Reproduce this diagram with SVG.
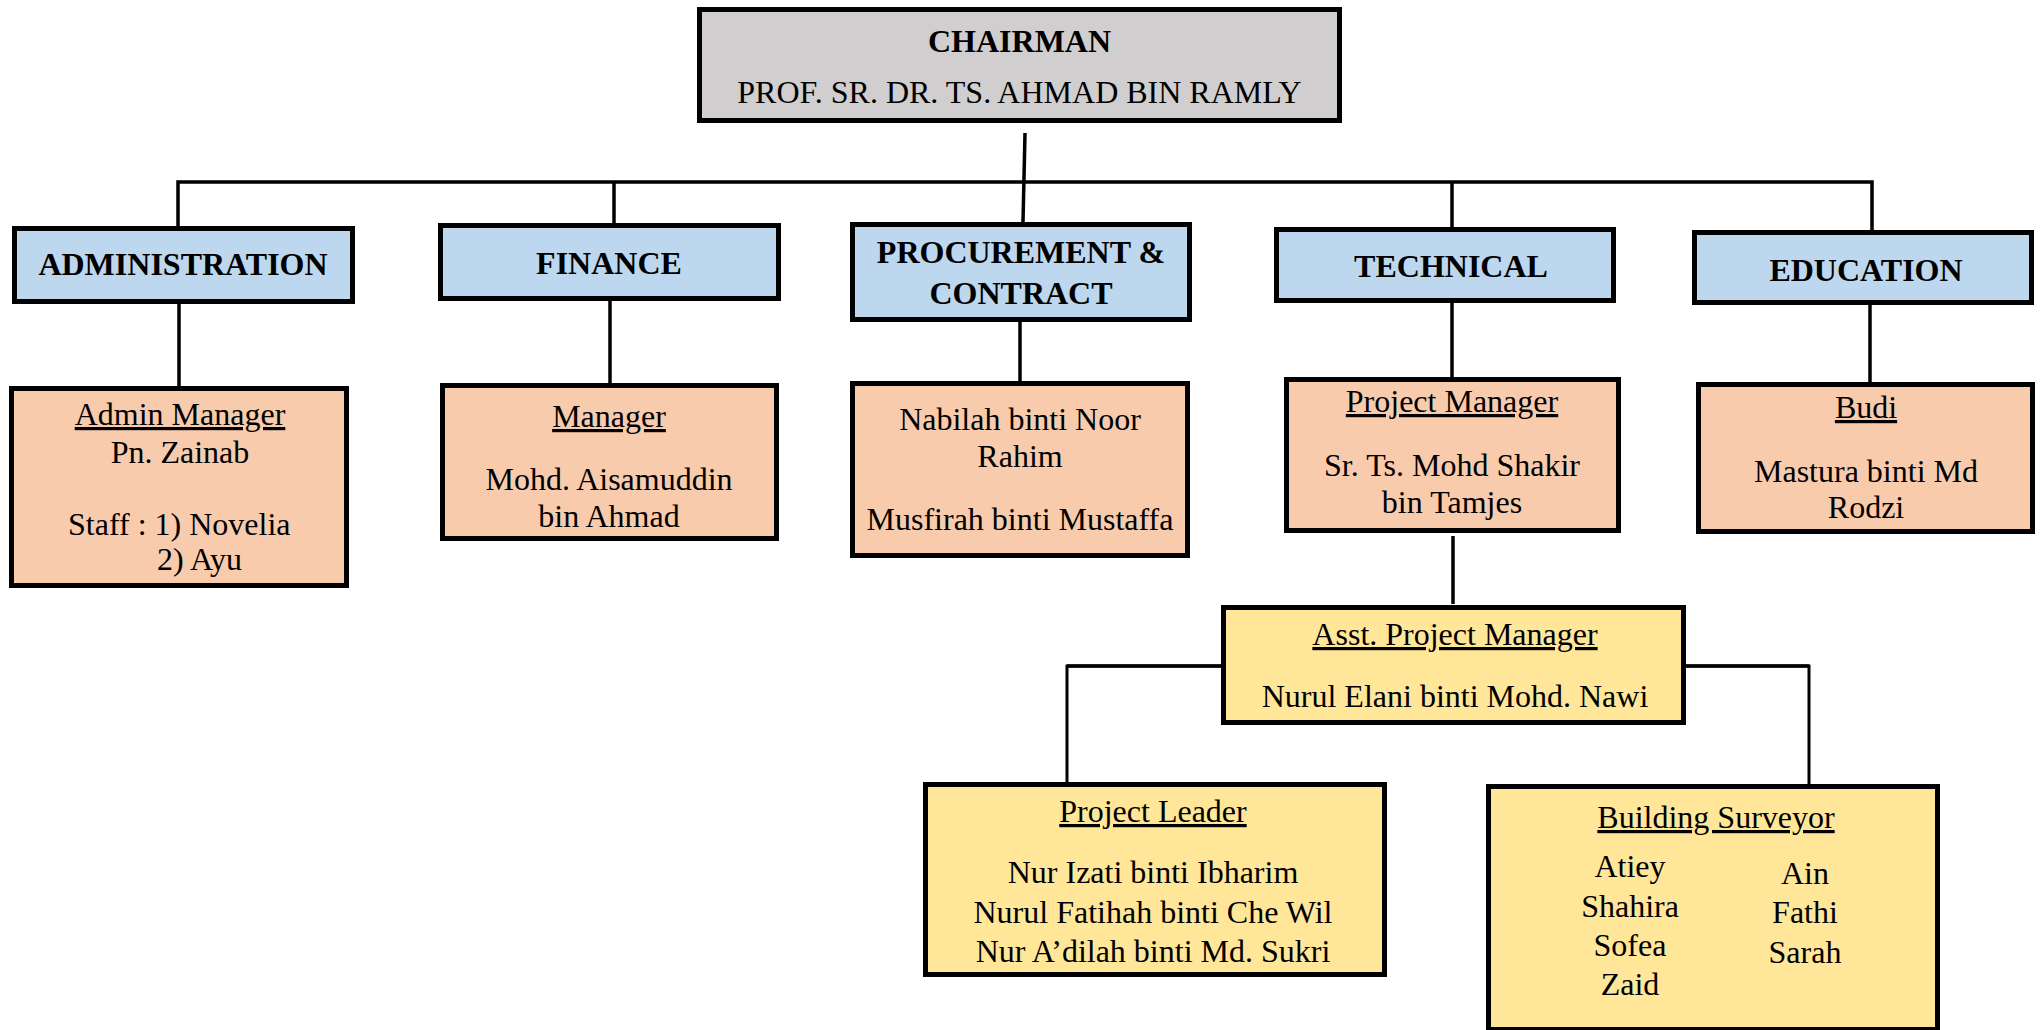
<svg xmlns="http://www.w3.org/2000/svg" width="2044" height="1030" viewBox="0 0 2044 1030">
<style>
.box{stroke:#000;stroke-width:5}
.gray{fill:#D0CECE}
.blue{fill:#BDD7EE}
.peach{fill:#F8CBAD}
.yellow{fill:#FFE699}
text{font-family:"Liberation Serif","Times New Roman",serif;font-size:32px;fill:#000;text-anchor:middle}
.b{font-weight:bold}
.u{text-decoration:underline}
.st{text-anchor:start}
.ln{fill:none;stroke:#000;stroke-width:3.5;stroke-linejoin:miter}
.ln2{fill:none;stroke:#000;stroke-width:3}
</style>
<rect width="2044" height="1030" fill="#fff"/>
<g id="connectors">
<path class="ln" d="M1025,133 L1023,222"/>
<path class="ln" d="M178,226 V182 H1872 V230"/>
<path class="ln" d="M614,182 V223"/>
<path class="ln" d="M1452,182 V227"/>
<path class="ln" d="M179,304 V386"/>
<path class="ln" d="M610,301 V383"/>
<path class="ln" d="M1020,322 V381"/>
<path class="ln" d="M1452,303 V377"/>
<path class="ln" d="M1870,305 V382"/>
<path class="ln" d="M1453,536 V604"/>
<path class="ln2" d="M1222,666 H1067 V782"/>
<path class="ln2" d="M1686,666 H1809 V784"/>
<path class="ln" d="M1222,666 H1067"/>
<path class="ln" d="M1686,666 H1809"/>
</g>
<g id="chairman">
<rect class="box gray" x="699.5" y="9.5" width="640" height="111"/>
<text class="b" x="1019.5" y="52">CHAIRMAN</text>
<text x="1019.5" y="103">PROF. SR. DR. TS. AHMAD BIN RAMLY</text>
</g>
<g id="administration">
<rect class="box blue" x="14.5" y="228.5" width="338" height="73"/>
<text class="b" x="183" y="275">ADMINISTRATION</text>
</g>
<g id="finance">
<rect class="box blue" x="440.5" y="225.5" width="338" height="73"/>
<text class="b" x="609" y="274">FINANCE</text>
</g>
<g id="procurement">
<rect class="box blue" x="852.5" y="224.5" width="337" height="95"/>
<text class="b" x="1021" y="263">PROCUREMENT &amp;</text>
<text class="b" x="1021" y="304">CONTRACT</text>
</g>
<g id="technical">
<rect class="box blue" x="1276.5" y="229.5" width="337" height="71"/>
<text class="b" x="1451" y="277">TECHNICAL</text>
</g>
<g id="education">
<rect class="box blue" x="1694.5" y="232.5" width="337" height="70"/>
<text class="b" x="1866" y="281">EDUCATION</text>
</g>
<g id="admin-manager">
<rect class="box peach" x="11.5" y="388.5" width="335" height="197"/>
<text class="u" x="180" y="425">Admin Manager</text>
<text x="180" y="463">Pn. Zainab</text>
<text class="st" x="68" y="535">Staff : 1) Novelia</text>
<text class="st" x="157" y="570">2) Ayu</text>
</g>
<g id="finance-manager">
<rect class="box peach" x="442.5" y="385.5" width="334" height="153"/>
<text class="u" x="609" y="427">Manager</text>
<text x="609" y="490">Mohd. Aisamuddin</text>
<text x="609" y="527">bin Ahmad</text>
</g>
<g id="procurement-staff">
<rect class="box peach" x="852.5" y="383.5" width="335" height="172"/>
<text x="1020" y="430">Nabilah binti Noor</text>
<text x="1020" y="467">Rahim</text>
<text x="1020" y="530">Musfirah binti Mustaffa</text>
</g>
<g id="project-manager">
<rect class="box peach" x="1286.5" y="379.5" width="332" height="151"/>
<text class="u" x="1452" y="412">Project Manager</text>
<text x="1452" y="476">Sr. Ts. Mohd Shakir</text>
<text x="1452" y="513">bin Tamjes</text>
</g>
<g id="budi">
<rect class="box peach" x="1698.5" y="384.5" width="334" height="147"/>
<text class="u" x="1866" y="418">Budi</text>
<text x="1866" y="482">Mastura binti Md</text>
<text x="1866" y="518">Rodzi</text>
</g>
<g id="asst-project-manager">
<rect class="box yellow" x="1223.5" y="607.5" width="460" height="115"/>
<text class="u" x="1455" y="645">Asst. Project Manager</text>
<text x="1455" y="707">Nurul Elani binti Mohd. Nawi</text>
</g>
<g id="project-leader">
<rect class="box yellow" x="925.5" y="784.5" width="459" height="190"/>
<text class="u" x="1153" y="822">Project Leader</text>
<text x="1153" y="883">Nur Izati binti Ibharim</text>
<text x="1153" y="923">Nurul Fatihah binti Che Wil</text>
<text x="1153" y="962">Nur A’dilah binti Md. Sukri</text>
</g>
<g id="building-surveyor">
<rect class="box yellow" x="1488.5" y="786.5" width="449" height="243"/>
<text class="u" x="1716" y="828">Building Surveyor</text>
<text x="1630" y="877">Atiey</text>
<text x="1630" y="917">Shahira</text>
<text x="1630" y="956">Sofea</text>
<text x="1630" y="995">Zaid</text>
<text x="1805" y="884">Ain</text>
<text x="1805" y="923">Fathi</text>
<text x="1805" y="963">Sarah</text>
</g>
</svg>
